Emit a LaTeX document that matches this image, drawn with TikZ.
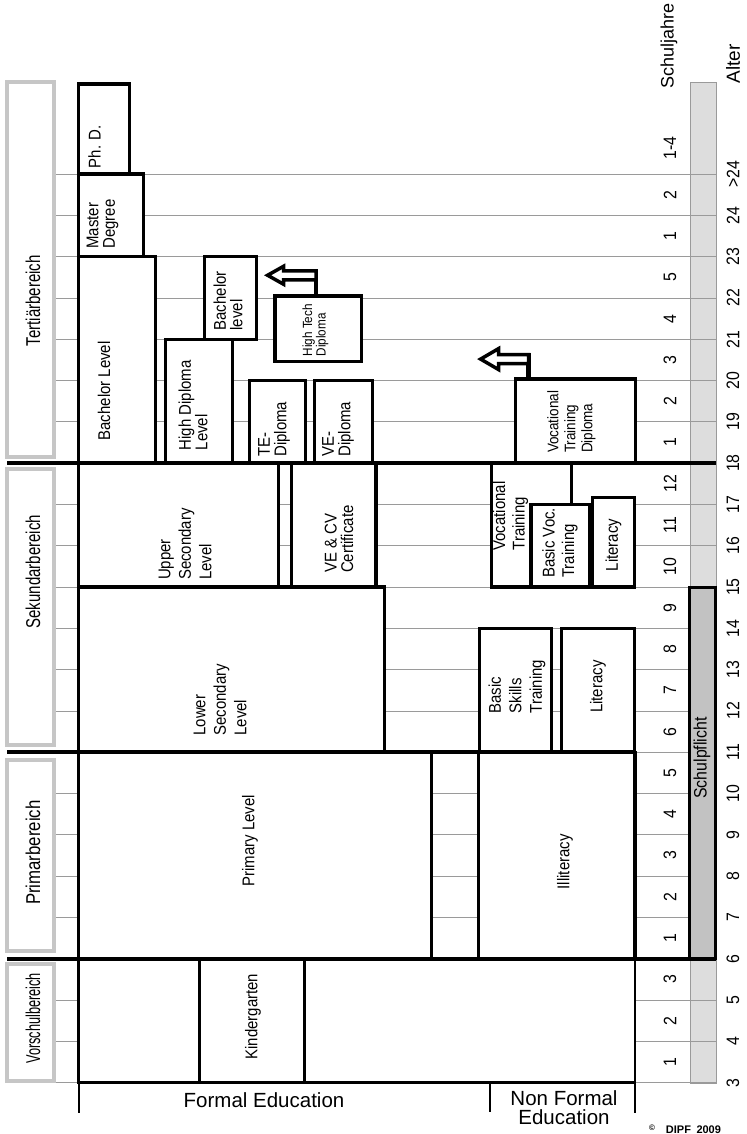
\documentclass[tikz,border=0pt]{standalone}
\usepackage{fontspec}
\setmainfont{Liberation Sans}
\newfontfamily\schmal[FakeStretch=0.75]{Liberation Sans}
\newfontfamily\kasten[FakeStretch=0.88]{Liberation Sans}
\usetikzlibrary{fit}
\definecolor{rahmenGrau}{HTML}{C6C6C6}
\definecolor{linienGrau}{HTML}{9A9A9A}
\definecolor{spalteGrau}{HTML}{DDDDDD}
\definecolor{pflichtGrau}{HTML}{C2C2C2}
\tikzset{
  stufe/.style={draw, line width=3.2pt, fill=white, inner sep=0pt, outer sep=0pt},
  txt/.style={rotate=90, align=left, inner sep=0pt, font=\kasten\fontsize{17}{16.5}\selectfont},
  txtweit/.style={txt, font=\kasten\fontsize{17}{20.5}\selectfont},
  bereich/.style={draw=rahmenGrau, line width=4pt, fill=white, inner sep=0pt},
  bereichtxt/.style={rotate=90, inner sep=0pt, font=\schmal\fontsize{20}{22}\selectfont},
  zahl/.style={rotate=90, inner sep=0pt, font=\kasten\fontsize{18}{18}\selectfont},
  gitter/.style={draw=linienGrau, line width=0.8pt},
  trennlinie/.style={line width=3.6pt},
  klammer/.style={line width=2pt},
  pfeilstiel/.style={line width=4.5pt},
  hohlpfeil/.style={draw, fill=white, line width=3.5pt},
  unten/.style={font=\fontsize{20.5}{19}\selectfont, align=center, inner sep=0pt},
}
\begin{document}
\begin{tikzpicture}[x=1pt, y=41.3pt]
\useasboundingbox (0,1.758) rectangle (746,29.215);

% Bereiche links
\node[bereich, fit={(7,18.16) (54,27.23)}] (tertiaer) {};
\node[bereich, fit={(7,11.18) (54,17.86)}] (sekundar) {};
\node[bereich, fit={(7,6.2) (54,10.82)}] (primar) {};
\node[bereich, fit={(7,3.05) (54,5.88)}] (vorschul) {};
\node[bereichtxt] (ttertiaer) at (33,21.93) {Tertiärbereich};
\node[bereichtxt] (tsekundar) at (33,15.37) {Sekundarbereich};
\node[bereichtxt, xscale=1.12] (tprimar) at (33,8.57) {Primarbereich};
\node[bereichtxt, xscale=0.85] (tvorschul) at (33,4.56) {Vorschulbereich};

% Spalte rechts und Raster
\draw[draw=linienGrau, fill=spalteGrau] (690,3) rectangle (716,27.23);
\foreach \a in {3,...,25}
  \draw[gitter] (56,\a) -- (716,\a);

% Stufen
\node[stufe, fit={(78.5,25) (129.5,27.18)}] (phd) {};
\node[stufe, fit={(78.5,23) (143.5,25)}] (master) {};
\node[stufe, fit={(78.5,18) (155.5,23)}] (bachelor) {};
\node[stufe, fit={(165.5,18) (232.7,21)}] (hdl) {};
\node[stufe, fit={(204.7,21) (256.3,23)}] (bl) {};
\node[stufe, fit={(275,20.47) (361.3,22.05)}] (htd) {};
\node[stufe, fit={(249.5,18) (305.3,20)}] (te) {};
\node[stufe, fit={(314.5,18) (372.5,20)}] (ve) {};
\node[stufe, fit={(78.5,15) (278.3,18)}] (upper) {};
\node[stufe, fit={(291.7,15) (376,18)}] (vecv) {};
\node[stufe, fit={(78.5,11) (384.7,15)}] (lower) {};
\node[stufe, fit={(515.3,18) (635.5,20.04)}] (vtd) {};
\node[stufe, fit={(491.7,15) (571.8,18)}] (vt) {};
\node[stufe, fit={(531,15) (590,17)}] (bvt) {};
\node[stufe, fit={(592.5,15) (634.3,17.16)}] (litoben) {};
\node[stufe, fit={(479.3,11) (551.8,14)}] (bst) {};
\node[stufe, fit={(561.7,11) (634.3,14)}] (litunten) {};
\node[stufe, fit={(78.5,6) (431.7,11)}] (primary) {};
\node[stufe, fit={(478.3,6) (635,11)}] (illit) {};
\node[stufe, line width=2.5pt, fit={(78.5,3) (635,6)}] (vorschule) {};
\node[stufe, fit={(199.7,3) (304.7,6)}] (kiga) {};

% Schulpflicht
\node[stufe, fill=pflichtGrau, line width=3pt, fit={(689.5,6) (715.5,15)}] (pflicht) {};
\node[zahl, font=\kasten\fontsize{18}{18}\selectfont] (tpflicht) at (702,10.86) {Schulpflicht};

% Trennlinien
\draw[trennlinie] (7,6) -- (716,6);
\draw[trennlinie] (7,11) -- (636,11);
\draw[trennlinie] (7,18) -- (716,18);

% Klammern unten
\draw[klammer] (vorschule.south west) -- ++(0,-0.73);
\draw[klammer] (490.3,3) -- (490.3,2.3);
\draw[klammer] (vorschule.south east) -- ++(0,-0.73);

% Beschriftung der Stufen
\node[txt] (tphd) at (94.5,25.66) {Ph. D.};
\node[txt] (tmaster) at (102.5,23.79) {Master\\Degree};
\node[txt] (tbachelor) at (104,19.75) {Bachelor Level};
\node[txt] (thdl) at (193,19.4) {High Diploma\\Level};
\node[txt] (tbl) at (228,21.93) {Bachelor\\level};
\node[txt, font=\kasten\fontsize{13.3}{13.5}\selectfont] (thtd) at (315.5,21.22) {High Tech\\Diploma};
\node[txt] (tte) at (274,18.82) {TE-\\Diploma};
\node[txt] (tve) at (338,18.82) {VE-\\Diploma};
\node[txtweit] (tupper) at (185,16.04) {Upper\\Secondary\\Level};
\node[txt] (tvecv) at (339,16.16) {VE \& CV\\Certificate};
\node[txtweit] (tlower) at (220,12.27) {Lower\\Secondary\\Level};
\node[txt, font=\kasten\fontsize{15.3}{17}\selectfont] (tvtd) at (571.5,19) {Vocational\\Training\\Diploma};
\node[txtweit, font=\kasten\fontsize{17}{19.5}\selectfont] (tvt) at (510.5,16.72) {Vocational\\Training};
\node[txtweit, font=\kasten\fontsize{17}{19.5}\selectfont] (tbvt) at (560,16.07) {Basic Voc.\\Training};
\node[txt] (tlitoben) at (613.5,16.02) {Literacy};
\node[txtweit] (tbst) at (517,12.59) {Basic\\Skills\\Training};
\node[txt] (tlitunten) at (598,12.59) {Literacy};
\node[txt] (tprimary) at (250,8.86) {Primary Level};
\node[txt] (tillit) at (565,8.35) {Illiteracy};
\node[txt] (tkiga) at (253,4.6) {Kindergarten};

% Pfeile
\coordinate (knick1) at (316,22.55);
\coordinate (spitze1) at (267.6,22.55);
\draw[pfeilstiel] (knick1 |- htd.north) -- ([yshift=6pt]knick1);
\draw[hohlpfeil] (spitze1) -- +(16pt,9pt) -- +(16pt,4.5pt) -- +(48.5pt,4.5pt)
  -- +(48.5pt,-4.5pt) -- +(16pt,-4.5pt) -- +(16pt,-9pt) -- cycle;
\coordinate (knick2) at (528.3,20.52);
\coordinate (spitze2) at (480.6,20.52);
\draw[pfeilstiel] (knick2 |- vtd.north) -- ([yshift=6pt]knick2);
\draw[hohlpfeil] (spitze2) -- +(18pt,10.5pt) -- +(18pt,4.5pt) -- +(48pt,4.5pt)
  -- +(48pt,-4.5pt) -- +(18pt,-4.5pt) -- +(18pt,-10.5pt) -- cycle;

% Schuljahre und Alter
\foreach \a/\n in {3/1,4/2,5/3,6/1,7/2,8/3,9/4,10/5,11/6,12/7,13/8,14/9,15/10,16/11,17/12,18/1,19/2,20/3,21/4,22/5,23/1,24/2}
  \node[zahl] (sj\a) at (670,\a+0.5) {\n};
\node[zahl] (sj25) at (670,25.63) {1-4};
\foreach \a in {3,...,24}
  \node[zahl] (alter\a) at (733,\a) {\a};
\node[zahl] (alter25) at (733,25) {>24};
\node[zahl, font=\fontsize{18}{18}\selectfont] (schuljahre) at (669,28.09) {Schuljahre};
\node[zahl, font=\fontsize{19}{19}\selectfont] (alter) at (733,27.67) {Alter};

% Bildung unten
\node[unten] (formal) at (264,2.58) {Formal Education};
\node[unten] (nonformal) at (564,2.39) {Non Formal\\Education};
\node[inner sep=0pt, font=\fontsize{11}{11}\selectfont\bfseries] (dipf) at (685,1.87)
  {{\fontsize{8}{8}\selectfont\raisebox{3pt}{\textcopyright}}\quad DIPF\enspace 2009};
\end{tikzpicture}
\end{document}
